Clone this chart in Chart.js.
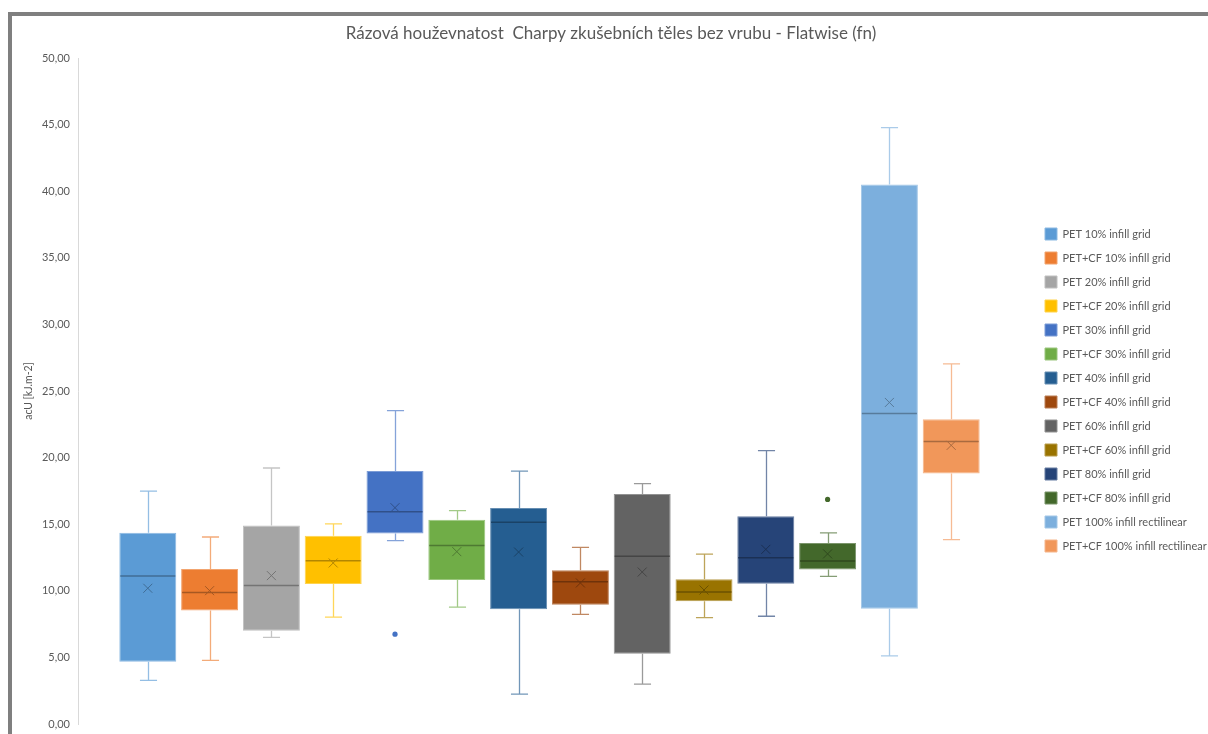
<!DOCTYPE html>
<html>
<head>
<meta charset="utf-8">
<script src="https://cdn.jsdelivr.net/npm/chart.js@4.4.1/dist/chart.umd.min.js"></script>
<style>
  html, body { margin: 0; padding: 0; background: #fff; }
  #wrap { width: 1208px; height: 734px; position: relative; }
</style>
</head>
<body>
<div id="wrap"><canvas id="boxChart"></canvas></div>
<script>
// DATA
const seriesNames = [
  "PET 10% infill grid", "PET+CF 10% infill grid",
  "PET 20% infill grid", "PET+CF 20% infill grid",
  "PET 30% infill grid", "PET+CF 30% infill grid",
  "PET 40% infill grid", "PET+CF 40% infill grid",
  "PET 60% infill grid", "PET+CF 60% infill grid",
  "PET 80% infill grid", "PET+CF 80% infill grid",
  "PET 100% infill rectilinear", "PET+CF 100% infill rectilinear",
];
const minVals    = [3.28, 4.78, 6.51, 8.03, 13.77, 8.78, 2.25, 8.23, 3.00, 7.98, 8.09, 11.08, 5.11, 13.84];
const q1Vals     = [4.68, 8.53, 7.01, 10.51, 14.31, 10.81, 8.61, 8.96, 5.28, 9.21, 10.52, 11.59, 8.66, 18.81];
const medianVals = [11.11, 9.88, 10.39, 12.26, 15.94, 13.41, 15.14, 10.68, 12.59, 9.91, 12.49, 12.24, 23.32, 21.20];
const q3Vals     = [14.36, 11.64, 14.91, 14.14, 18.99, 15.34, 16.22, 11.54, 17.27, 10.86, 15.60, 13.59, 40.51, 22.87];
const maxVals    = [17.49, 14.04, 19.22, 15.02, 23.52, 16.02, 18.99, 13.26, 18.04, 12.76, 20.53, 14.35, 44.77, 27.04];
const meanVals   = [10.19, 10.01, 11.14, 12.09, 16.24, 12.94, 12.91, 10.59, 11.41, 10.06, 13.11, 12.77, 24.14, 20.92];
const outlierVals = [[], [], [], [], [6.74], [], [], [], [], [], [], [16.86], [], []];
const yTicks = [0, 5, 10, 15, 20, 25, 30, 35, 40, 45, 50];

// COLORS (Office palette)
const seriesColors = [
  "#5B9BD5", "#ED7D31", "#A5A5A5", "#FFC000", "#4472C4", "#70AD47", "#255E91",
  "#9E480E", "#636363", "#997300", "#264478", "#43682B", "#7CAFDD", "#F1975A",
];
const textColor = "#595959";
const fontFamily = "Lato, 'Open Sans', sans-serif";

function mix(hex, target, t) {
  const n = parseInt(hex.slice(1), 16);
  const r = (n >> 16) & 255, g = (n >> 8) & 255, b = n & 255;
  const m = (c) => Math.round(c + (target - c) * t);
  return "rgb(" + m(r) + "," + m(g) + "," + m(b) + ")";
}

const datasets = seriesNames.map((name, i) => ({
  label: name,
  data: [[q1Vals[i], q3Vals[i]]],
  backgroundColor: seriesColors[i],
  borderColor: mix(seriesColors[i], 255, 0.3),
  borderWidth: 1,
  borderSkipped: false,
}));

// whiskers, medians, means and outliers drawn at the bars' positions via the y scale
const boxExtras = {
  id: "boxExtras",
  beforeDraw(chart) {
    const c = chart.ctx;
    c.save();
    c.fillStyle = "#ffffff";
    c.fillRect(0, 0, chart.width, chart.height);
    c.fillStyle = "#7f7f7f";
    c.fillRect(8, 12, chart.width - 8, 4);
    c.fillRect(8, 12, 4, chart.height - 12);
    c.restore();
  },
  beforeDatasetsDraw(chart) {
    const c = chart.ctx;
    const y = chart.scales.y;
    c.save();
    seriesNames.forEach((_, i) => {
      const bar = chart.getDatasetMeta(i).data[0];
      const x = Math.round(bar.x) + 0.5;
      const cap = bar.width * 0.3;
      c.strokeStyle = mix(seriesColors[i], 255, 0.35);
      c.lineWidth = 1.3;
      c.beginPath();
      c.moveTo(x, y.getPixelForValue(maxVals[i]));
      c.lineTo(x, y.getPixelForValue(q3Vals[i]));
      c.moveTo(x, y.getPixelForValue(q1Vals[i]));
      c.lineTo(x, y.getPixelForValue(minVals[i]));
      c.moveTo(x - cap / 2, y.getPixelForValue(maxVals[i]));
      c.lineTo(x + cap / 2, y.getPixelForValue(maxVals[i]));
      c.moveTo(x - cap / 2, y.getPixelForValue(minVals[i]));
      c.lineTo(x + cap / 2, y.getPixelForValue(minVals[i]));
      c.stroke();
    });
    c.restore();
  },
  afterDatasetsDraw(chart) {
    const c = chart.ctx;
    const y = chart.scales.y;
    c.save();
    seriesNames.forEach((_, i) => {
      const bar = chart.getDatasetMeta(i).data[0];
      const x = bar.x;
      const half = bar.width / 2;
      const dark = mix(seriesColors[i], 0, 0.3);
      // median
      const my = y.getPixelForValue(medianVals[i]);
      c.strokeStyle = dark;
      c.lineWidth = 1.5;
      c.beginPath();
      c.moveTo(x - half + 1, my);
      c.lineTo(x + half - 1, my);
      c.stroke();
      // mean marker
      const ay = y.getPixelForValue(meanVals[i]);
      c.lineWidth = 1;
      c.beginPath();
      c.moveTo(x - 4.5, ay - 4.5);
      c.lineTo(x + 4.5, ay + 4.5);
      c.moveTo(x + 4.5, ay - 4.5);
      c.lineTo(x - 4.5, ay + 4.5);
      c.stroke();
      // outliers
      c.fillStyle = seriesColors[i];
      outlierVals[i].forEach((v) => {
        c.beginPath();
        c.arc(x, y.getPixelForValue(v), 2.6, 0, Math.PI * 2);
        c.fill();
      });
    });
    c.restore();
  },
};

new Chart(document.getElementById("boxChart").getContext("2d"), {
  type: "bar",
  data: { labels: [""], datasets: datasets },
  options: {
    responsive: true,
    maintainAspectRatio: false,
    animation: false,
    categoryPercentage: 0.9175,
    barPercentage: 0.922,
    layout: { padding: { left: 14, right: 0, top: 16, bottom: 10 } },
    scales: {
      x: { display: false },
      y: {
        min: 0,
        max: 50,
        afterBuildTicks(s) { s.ticks = yTicks.map((v) => ({ value: v })); },
        afterFit(s) {
          s.width = 64;
          s.paddingTop = 7;
          s.paddingBottom = 7;
        },
        grid: { display: false, drawTicks: false },
        border: { display: true, color: "#d9d9d9", width: 1 },
        ticks: {
          color: textColor,
          padding: 8,
          font: { family: fontFamily, size: 11 },
          callback: (v) => v.toFixed(2).replace(".", ","),
        },
        title: {
          display: true,
          text: "acU [kJ.m-2]",
          color: textColor,
          font: { family: fontFamily, size: 10.5 },
          padding: { top: 8, bottom: 0 },
        },
      },
      y2: {
        type: "linear",
        position: "right",
        afterFit(s) { s.width = 12; },
        grid: { display: false },
        ticks: { display: false },
        border: { display: false },
      },
    },
    plugins: {
      title: {
        display: true,
        text: "Rázová houževnatost  Charpy zkušebních těles bez vrubu - Flatwise (fn)",
        color: textColor,
        font: { family: fontFamily, size: 17, weight: "normal" },
        padding: { top: 7, bottom: 14.6 },
      },
      legend: {
        position: "right",
        align: "center",
        maxWidth: 175,
        title: {
          display: true,
          text: " ",
          font: { size: 10 },
          padding: { top: 14, bottom: 14 },
        },
        labels: {
          boxWidth: 12,
          boxHeight: 12,
          padding: 12,
          color: textColor,
          font: { family: fontFamily, size: 11 },
        },
      },
      tooltip: { enabled: false },
    },
  },
  plugins: [boxExtras],
});
</script>
</body>
</html>
